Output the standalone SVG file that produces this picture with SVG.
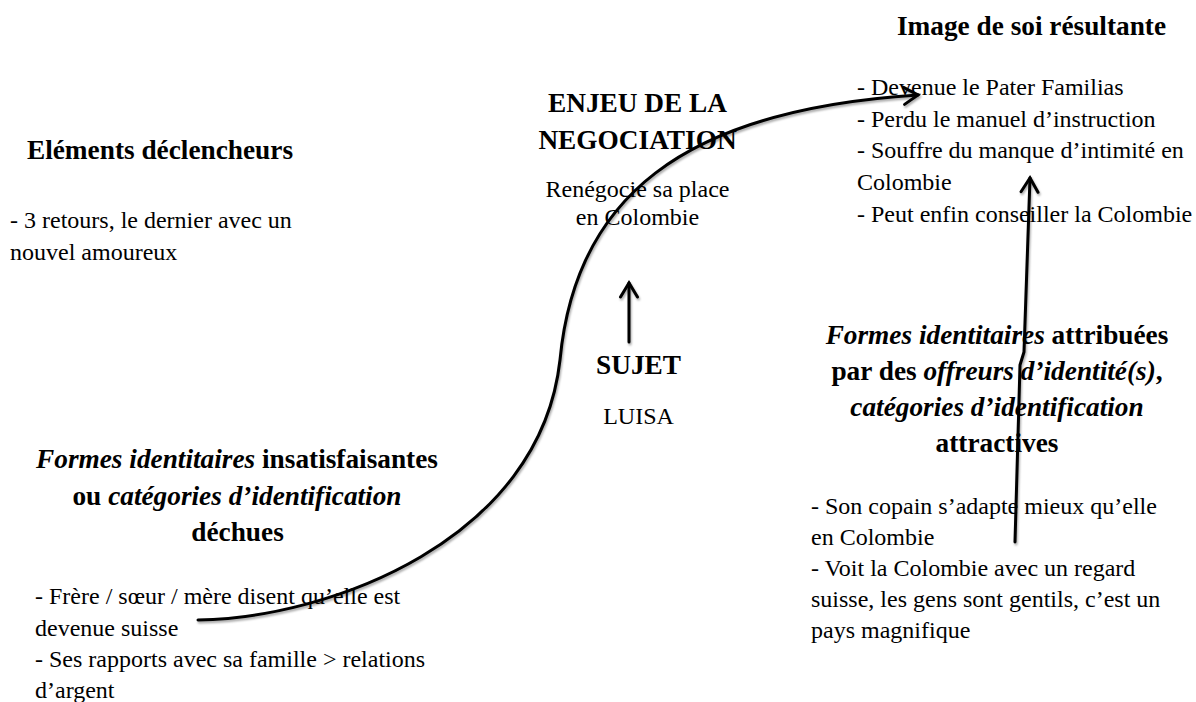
<svg xmlns="http://www.w3.org/2000/svg" width="1196" height="702" viewBox="0 0 1196 702">
<style>
text{font-family:"Liberation Serif","Times New Roman",serif;fill:#000}
.h{font-size:27.3px;font-weight:bold;text-anchor:middle}
.b{font-size:24px}
.c{text-anchor:middle}
.i{font-style:italic}
.conn{fill:none;stroke:#000;stroke-width:3;stroke-linecap:round;stroke-linejoin:round}
</style>
<defs>
<filter id="sh" x="-10%" y="-10%" width="120%" height="120%">
<feDropShadow dx="1" dy="2" stdDeviation="1" flood-color="#000" flood-opacity="0.35"/>
</filter>
<marker id="ah" markerUnits="userSpaceOnUse" markerWidth="20" markerHeight="22" viewBox="-16 -11 20 22" refX="0" refY="0" orient="auto">
<path d="M-14,-8.5 L0,0 L-14,8.5" fill="none" stroke="#000" stroke-width="3" stroke-linecap="round" stroke-linejoin="miter"/>
</marker>
</defs>
<rect width="1196" height="702" fill="#fff"/>

<g id="connectors" filter="url(#sh)">
<path class="conn" d="M198,620 C330,618 540,540 560,360 C575,200 680,110 918,95" marker-end="url(#ah)"/>
<path class="conn" d="M629,342 L629,283" marker-end="url(#ah)"/>
<path class="conn" d="M1015,542 L1020,365 L1024,352 L1030,178" marker-end="url(#ah)"/>
</g>

<g id="declencheurs">
<text class="h" x="160" y="159">Eléments déclencheurs</text>
<text class="b" x="10" y="228">- 3 retours, le dernier avec un</text>
<text class="b" x="10" y="259.5">nouvel amoureux</text>
</g>

<g id="enjeu">
<text class="h" x="637.5" y="111.5">ENJEU DE LA</text>
<text class="h" x="637.5" y="148.5">NEGOCIATION</text>
<text class="b c" x="637.5" y="196.5">Renégocie sa place</text>
<text class="b c" x="637.5" y="225">en Colombie</text>
</g>

<g id="sujet">
<text class="h" x="638.5" y="373.5">SUJET</text>
<text class="b c" x="638.5" y="424">LUISA</text>
</g>

<g id="image-de-soi">
<text class="h" x="1031.5" y="35">Image de soi résultante</text>
<text class="b" x="857" y="95">- Devenue le Pater Familias</text>
<text class="b" x="857" y="126.5">- Perdu le manuel d’instruction</text>
<text class="b" x="857" y="158">- Souffre du manque d’intimité en</text>
<text class="b" x="857" y="189.5">Colombie</text>
<text class="b" x="857" y="221.5">- Peut enfin conseiller la Colombie</text>
</g>

<g id="formes-dechues">
<text class="h" x="237" y="467.5"><tspan class="i">Formes identitaires</tspan> insatisfaisantes</text>
<text class="h" x="237" y="504.5">ou <tspan class="i">catégories d’identification</tspan></text>
<text class="h" x="237.5" y="540.5">déchues</text>
<text class="b" x="35" y="604">- Frère / sœur / mère disent qu’elle est</text>
<text class="b" x="35" y="635.5">devenue suisse</text>
<text class="b" x="35" y="667">- Ses rapports avec sa famille &gt; relations</text>
<text class="b" x="35" y="698">d’argent</text>
</g>

<g id="formes-attractives">
<text class="h" x="997" y="343.5"><tspan class="i">Formes identitaires</tspan> attribuées</text>
<text class="h" x="997" y="380">par des <tspan class="i">offreurs d’identité(s)</tspan>,</text>
<text class="h i" x="997" y="416">catégories d’identification</text>
<text class="h" x="997" y="452">attractives</text>
<text class="b" x="811" y="513.5">- Son copain s’adapte mieux qu’elle</text>
<text class="b" x="811" y="544.5">en Colombie</text>
<text class="b" x="811" y="575.5">- Voit la Colombie avec un regard</text>
<text class="b" x="811" y="606.5">suisse, les gens sont gentils, c’est un</text>
<text class="b" x="811" y="638">pays magnifique</text>
</g>
</svg>
